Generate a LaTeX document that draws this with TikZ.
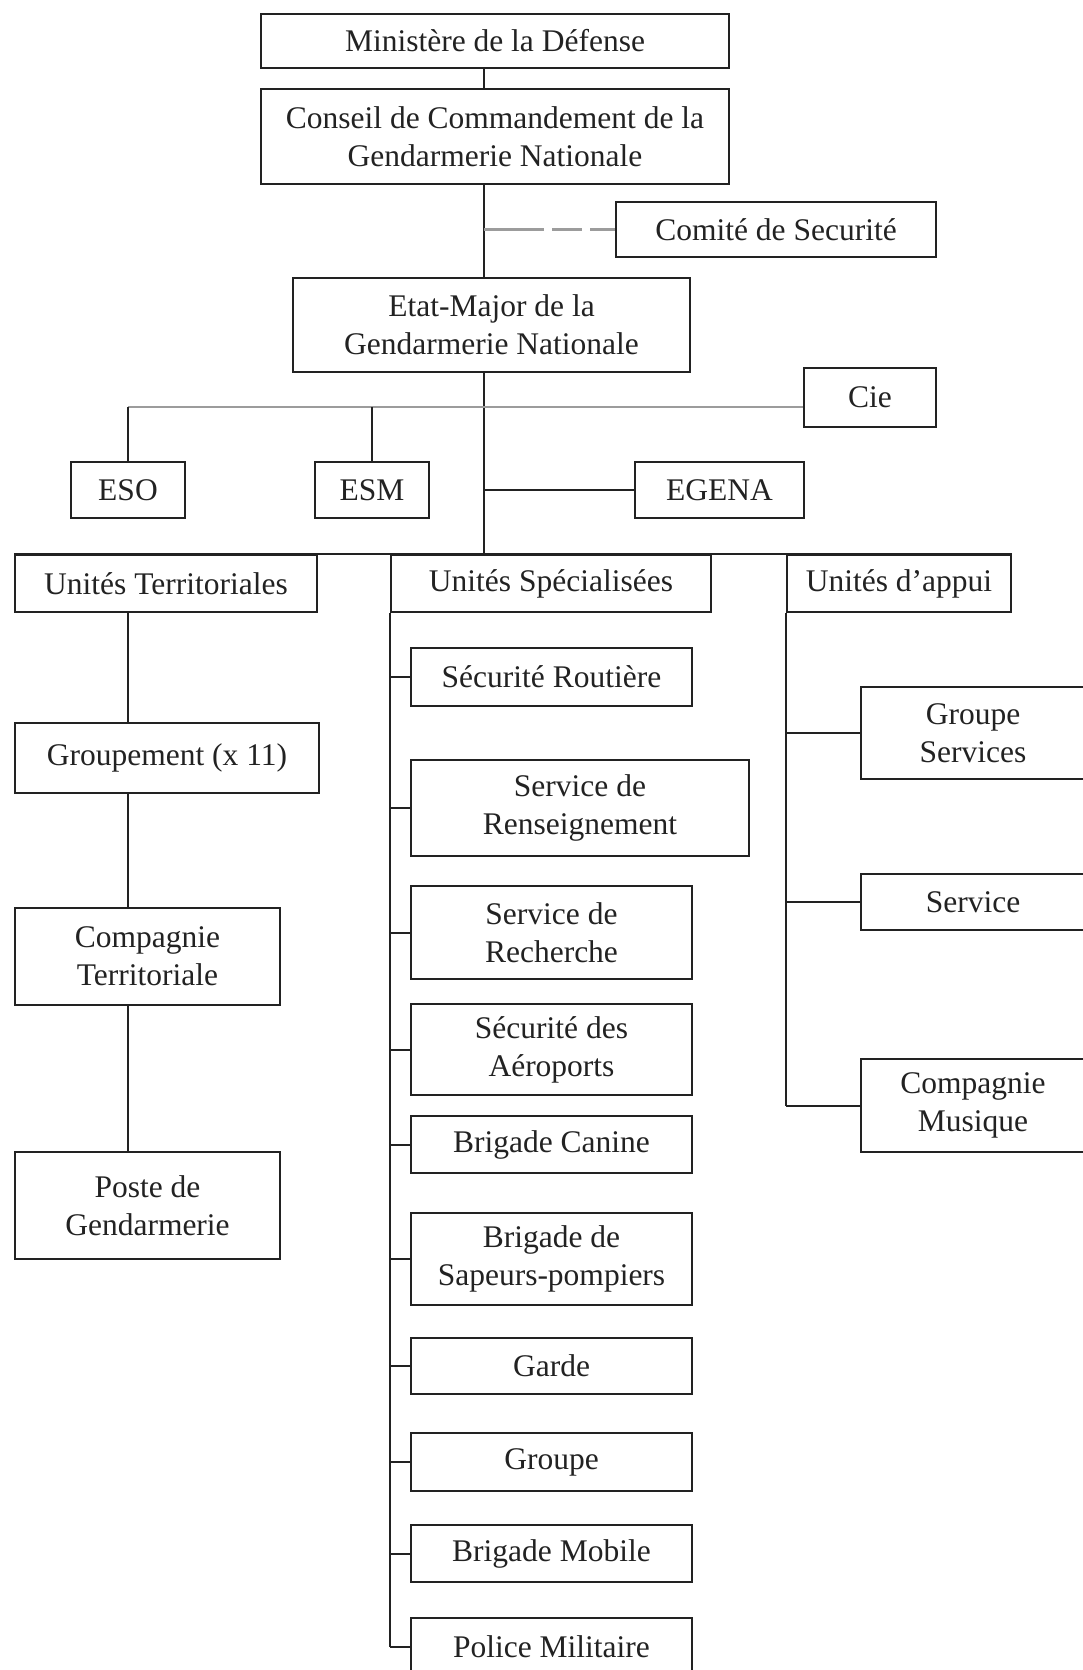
\documentclass[tikz,border=0pt]{standalone}
\usepackage{fontspec}
\setmainfont{Liberation Serif}
\usetikzlibrary{positioning, calc}
\definecolor{InkGray}{HTML}{222222}
\definecolor{FaintGray}{HTML}{9C9C9C}

\begin{document}
\begin{tikzpicture}[x=1pt, y=-1pt,
    orgbox/.style={draw=InkGray, line width=2pt, text=InkGray, align=center,
                   inner sep=0pt, font=\fontsize{31.5}{37.8}\selectfont},
    link/.style={draw=InkGray, line width=2pt},
    faint/.style={draw=FaintGray, line width=2.5pt}]
    \useasboundingbox (0,0) rectangle (1082,1670);

    % command chain
    \node[orgbox, minimum width=468pt, minimum height=54pt] (mindef) at (495,41) {Ministère de la Défense};
    \node[orgbox, minimum width=468pt, minimum height=95pt] (conseil) at (495,136.5)
        {Conseil de Commandement de la\\Gendarmerie Nationale};
    \node[orgbox, minimum width=320pt, minimum height=55pt] (comite) at (776,229.5) {Comité de Securité};
    \node[orgbox, minimum width=397pt, minimum height=94pt] (emgn) at (491.5,325)
        {Etat-Major de la\\Gendarmerie Nationale};
    \node[orgbox, minimum width=132pt, minimum height=59pt] (cie) at (870,397.5) {Cie};
    \node[orgbox, minimum width=114pt, minimum height=56pt] (eso) at (128,490) {ESO};
    \node[orgbox, minimum width=114pt, minimum height=56pt] (esm) at (372,490) {ESM};
    \node[orgbox, minimum width=169pt, minimum height=56pt] (egena) at (719.5,490) {EGENA};

    \coordinate (trunk) at (484,0);
    \coordinate (staff) at (484,407);

    % three branches
    \node[orgbox, minimum width=302pt, minimum height=57pt] (uterr) at (166,583.5) {Unités Territoriales};
    \node[orgbox, minimum width=320pt, minimum height=57pt] (uspec) at (551,583.5) {Unités Spécialisées};
    \node[orgbox, minimum width=224pt, minimum height=57pt] (uappui) at (899,583.5) {Unités d'appui};

    % territorial units
    \coordinate (terrline) at (128,0);
    \node[orgbox, minimum width=304pt, minimum height=70pt] (grpt) at (167,758) {Groupement (x 11)};
    \node[orgbox, minimum width=265pt, minimum height=97pt] (cieterr) at (147.5,956.5) {Compagnie\\Territoriale};
    \node[orgbox, minimum width=265pt, minimum height=107pt] (poste) at (147.5,1205.5) {Poste de\\Gendarmerie};

    % specialised units
    \node[orgbox, minimum width=281pt, minimum height=58pt] (secroute) at (551.5,677) {Sécurité Routière};
    \node[orgbox, minimum width=338pt, minimum height=96pt] (renseig) at (580,808) {Service de\\Renseignement};
    \node[orgbox, minimum width=281pt, minimum height=93pt] (recherche) at (551.5,932.5) {Service de\\Recherche};
    \node[orgbox, minimum width=281pt, minimum height=91pt] (aeroports) at (551.5,1049.5) {Sécurité des\\Aéroports};
    \node[orgbox, minimum width=281pt, minimum height=57pt] (canine) at (551.5,1144.5) {Brigade Canine};
    \node[orgbox, minimum width=281pt, minimum height=92pt] (sapeurs) at (551.5,1259) {Brigade de\\Sapeurs-pompiers};
    \node[orgbox, minimum width=281pt, minimum height=56pt] (garde) at (551.5,1366) {Garde};
    \node[orgbox, minimum width=281pt, minimum height=58pt] (groupe) at (551.5,1462) {Groupe};
    \node[orgbox, minimum width=281pt, minimum height=57pt] (mobile) at (551.5,1553.5) {Brigade Mobile};
    \node[orgbox, minimum width=281pt, minimum height=58pt] (police) at (551.5,1647) {Police Militaire};

    % support units
    \node[orgbox, minimum width=224pt, minimum height=92pt] (grpserv) at (973,733) {Groupe\\Services};
    \node[orgbox, minimum width=224pt, minimum height=56pt] (service) at (973,902) {Service};
    \node[orgbox, minimum width=224pt, minimum height=93pt] (musique) at (973,1105.5) {Compagnie\\Musique};

    % connectors
    \draw[link] (mindef.south -| trunk) -- (conseil.north -| trunk);
    \draw[link] (conseil.south -| trunk) -- (emgn.north -| trunk);
    \draw[faint, dash pattern=on 60pt off 8pt on 30pt off 8pt] (trunk |- comite.west) -- (comite.west);
    \draw[link] (emgn.south -| trunk) -- (trunk |- uspec.north);
    \draw[faint] (eso.north |- staff) -- (staff -| cie.west);
    \draw[link] (eso.north) -- (eso.north |- staff);
    \draw[link] (esm.north) -- (esm.north |- staff);
    \draw[link] (trunk |- egena.west) -- (egena.west);
    \draw[link] (uterr.north west) -- (uappui.north east);

    \draw[link] (uterr.south -| terrline) -- (grpt.north -| terrline);
    \draw[link] (grpt.south -| terrline) -- (cieterr.north -| terrline);
    \draw[link] (cieterr.south -| terrline) -- (poste.north -| terrline);

    \draw[link] (uspec.south west) -- (uspec.south west |- police.west);
    \foreach \unit in {secroute, renseig, recherche, aeroports, canine, sapeurs, garde, groupe, mobile, police}
        \draw[link] (uspec.south west |- \unit.west) -- (\unit.west);

    \draw[link] (uappui.south west) -- (uappui.south west |- musique.west);
    \foreach \unit in {grpserv, service, musique}
        \draw[link] (uappui.south west |- \unit.west) -- (\unit.west);
\end{tikzpicture}
\end{document}
